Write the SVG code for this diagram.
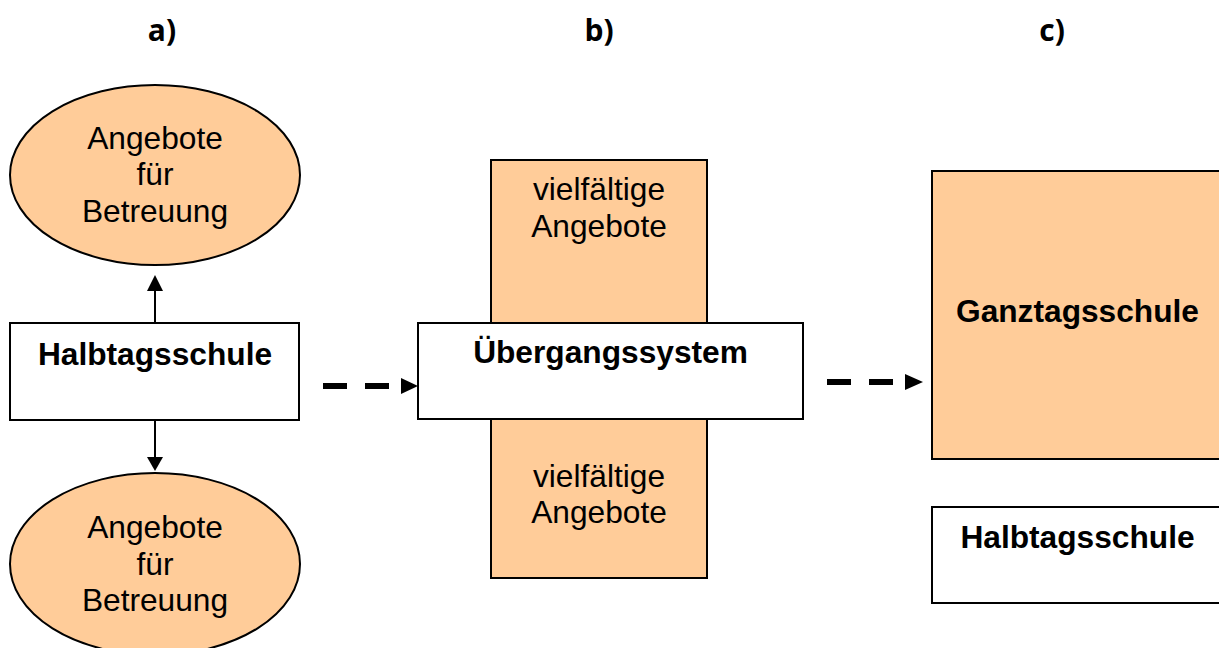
<svg xmlns="http://www.w3.org/2000/svg" width="1219" height="648" viewBox="0 0 1219 648">
<style>
.peach{fill:#FFCC99;stroke:#000;stroke-width:2}
.box{fill:#fff;stroke:#000;stroke-width:2}
.t{font-family:"Liberation Sans",Arial,sans-serif;font-size:31.7px;fill:#000;text-anchor:middle}
.b{font-weight:bold}
.h{font-family:"Open Sans","Liberation Sans",sans-serif;font-size:30px;font-weight:bold;fill:#000;text-anchor:middle}
.conn{stroke:#000;stroke-width:2;fill:none}
.dash{stroke:#000;stroke-width:6;stroke-dasharray:24 18;fill:none}
</style>
<rect width="1219" height="648" fill="#fff"/>
<g id="headings">
<text class="h" x="162" y="41">a)</text>
<text class="h" x="599" y="41">b)</text>
<text class="h" x="1052" y="41">c)</text>
</g>
<g id="betreuung-oben">
<ellipse class="peach" cx="155" cy="175" rx="145" ry="90"/>
<text class="t" x="155" y="149">Angebote</text>
<text class="t" x="155" y="185">für</text>
<text class="t" x="155" y="222">Betreuung</text>
</g>
<g id="halbtagsschule-a">
<rect class="box" x="10" y="323" width="289" height="97"/>
<text class="t b" x="155" y="365">Halbtagsschule</text>
</g>
<g id="betreuung-unten">
<ellipse class="peach" cx="155" cy="564" rx="145" ry="91"/>
<text class="t" x="155" y="538">Angebote</text>
<text class="t" x="155" y="575">für</text>
<text class="t" x="155" y="611">Betreuung</text>
</g>
<g id="angebote">
<rect class="peach" x="491" y="160" width="216" height="418"/>
<text class="t" x="599" y="200">vielfältige</text>
<text class="t" x="599" y="237">Angebote</text>
<text class="t" x="599" y="487">vielfältige</text>
<text class="t" x="599" y="523">Angebote</text>
</g>
<g id="uebergangssystem">
<rect class="box" x="418" y="323" width="385" height="96"/>
<text class="t b" x="610.5" y="363">Übergangssystem</text>
</g>
<g id="ganztagsschule">
<rect class="peach" x="932" y="171" width="291" height="288"/>
<text class="t b" x="1077.5" y="322">Ganztagsschule</text>
</g>
<g id="halbtagsschule-c">
<rect class="box" x="932" y="507" width="291" height="96"/>
<text class="t b" x="1077.5" y="548">Halbtagsschule</text>
</g>
<g id="connectors">
<line class="conn" x1="155" y1="323" x2="155" y2="289"/>
<polygon points="155,275 147,291 163,291" fill="#000"/>
<line class="conn" x1="155" y1="420" x2="155" y2="458"/>
<polygon points="147,457 163,457 155,471" fill="#000"/>
<line class="dash" x1="323" y1="386" x2="389" y2="386"/>
<polygon points="401,378 401,394 418,386" fill="#000"/>
<line class="dash" x1="827" y1="382" x2="893" y2="382"/>
<polygon points="905,374 905,390 923,382" fill="#000"/>
</g>
</svg>
